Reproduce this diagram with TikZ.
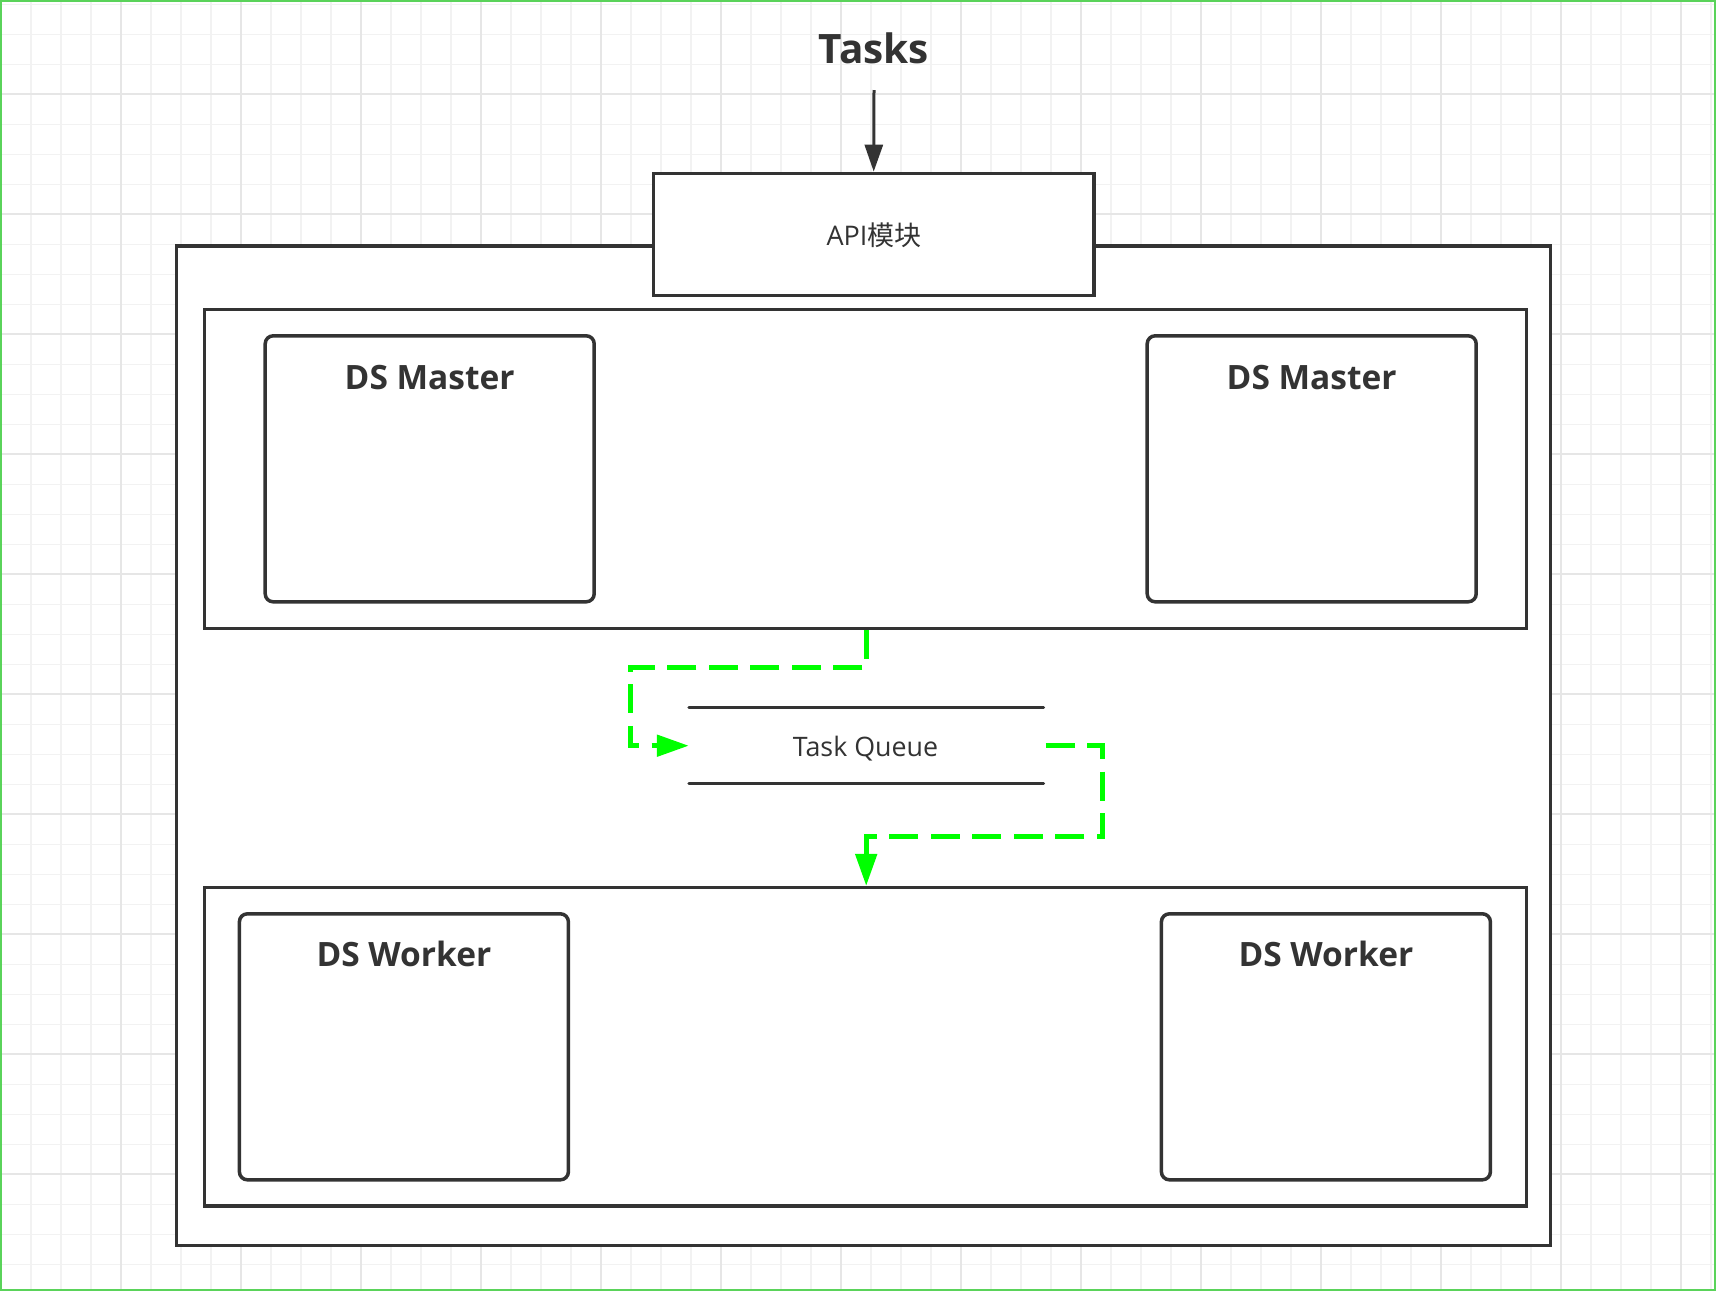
\documentclass[tikz,border=0pt]{standalone}
\usepackage{fontspec}
\setmainfont{Open Sans}
\newfontfamily\cjk{Noto Sans CJK SC}
\usetikzlibrary{arrows.meta}
\definecolor{ink}{HTML}{333333}
\definecolor{gridminor}{HTML}{F2F2F2}
\definecolor{gridmajor}{HTML}{E6E6E6}
\definecolor{frame}{HTML}{5AD35A}
\definecolor{flow}{HTML}{00FF00}
\tikzset{
  container/.style={draw=ink, fill=white, line width=3.3pt, rectangle, inner sep=0pt},
  dsbox/.style={draw=ink, fill=white, line width=3.5pt, rectangle, rounded corners=8pt, inner sep=0pt, minimum width=329pt, minimum height=266pt},
  title/.style={text=ink, font=\bfseries\fontsize{33.5}{40}\selectfont, anchor=base, inner sep=0pt},
  greenflow/.style={draw=flow, line width=5pt, dash pattern=on 29pt off 12.5pt, -{Triangle[length=32pt,width=21pt]}},
  blackarrow/.style={draw=ink, line width=3pt, -{Triangle[length=27pt,width=18pt]}},
  qline/.style={draw=ink, line width=3pt, line cap=round}
}
\begin{document}
\begin{tikzpicture}[x=1pt, y=-1pt]
\useasboundingbox (0,0) rectangle (1716,1291);
% grid
\foreach \i in {0,...,57} {
  \pgfmathsetmacro{\xx}{0.7+30*\i}
  \draw[gridminor, line width=1.6pt] (\xx,0) -- (\xx,1291);
}
\foreach \i in {0,...,43} {
  \pgfmathsetmacro{\yy}{4.3+30*\i}
  \draw[gridminor, line width=1.6pt] (0,\yy) -- (1716,\yy);
}
\foreach \i in {0,...,14} {
  \pgfmathsetmacro{\xx}{0.7+120*\i}
  \draw[gridmajor, line width=1.8pt] (\xx,0) -- (\xx,1291);
}
\foreach \i in {0,...,10} {
  \pgfmathsetmacro{\yy}{94.3+120*\i}
  \draw[gridmajor, line width=1.8pt] (0,\yy) -- (1716,\yy);
}
\draw[frame, line width=2.2pt] (1.1,1.1) rectangle (1714.6,1289.6);

% containers
\node[container, minimum width=1374.6pt, minimum height=999.4pt] (outer) at (863.5,745.7) {};
\node[container, minimum width=440.7pt, minimum height=122pt] (api) at (873.7,234.3) {};
\node[text=ink, anchor=base, inner sep=0pt, font=\fontsize{27}{30}\selectfont] (apitext) at (874,245.7) {API{\cjk 模块}};
\node[container, minimum width=1322pt, minimum height=318.6pt] (master) at (865.7,469) {};
\node[container, minimum width=1322pt, minimum height=318.4pt] (worker) at (865.7,1046.8) {};

\node[dsbox] (m1) at (429.7,468.8) {};
\node[dsbox] (m2) at (1311.7,468.8) {};
\node[dsbox] (w1) at (403.9,1046.8) {};
\node[dsbox] (w2) at (1325.9,1046.8) {};
\node[title] (m1t) at (429.7,389) {DS Master};
\node[title] (m2t) at (1311.7,389) {DS Master};
\node[title] (w1t) at (403.9,966.7) {DS Worker};
\node[title] (w2t) at (1325.9,966.7) {DS Worker};

% Tasks
\node[text=ink, anchor=base, inner sep=0pt, font=\bfseries\fontsize{40.5}{48}\selectfont] (tasks) at (874,63.3) {Tasks};
\coordinate (tasksend) at (874,90);
\draw[blackarrow] (tasksend) -- (api.north);

% task queue
\node[minimum width=354.3pt, minimum height=76pt, inner sep=0pt] (queue) at (866.2,745.7) {};
\node[text=ink, anchor=base, inner sep=0pt, font=\fontsize{26.8}{30}\selectfont] (qtext) at (865.5,756) {Task Queue};
\draw[qline] (queue.north west) -- (queue.north east);
\draw[qline] (queue.south west) -- (queue.south east);

% green flows
\draw[greenflow] (queue.north |- master.south) |- (630,667.7) |- (queue.west);
\draw[greenflow] ([xshift=2pt]queue.east) -| (1102.7,836) -| (queue.south |- worker.north);
\end{tikzpicture}
\end{document}
